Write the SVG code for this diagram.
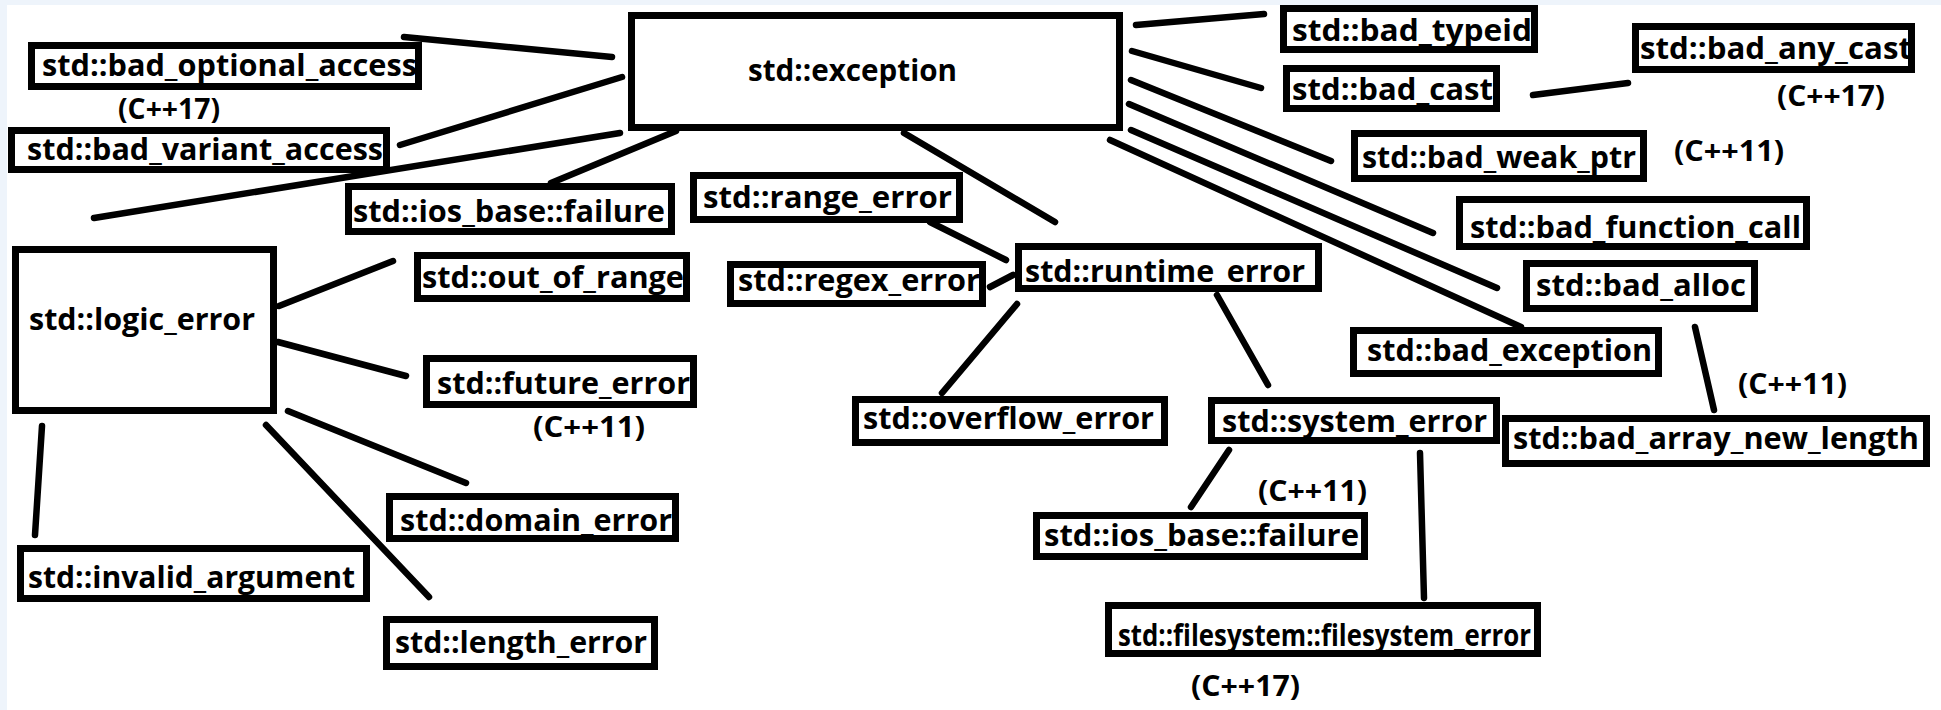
<svg xmlns="http://www.w3.org/2000/svg" width="1941" height="710" viewBox="0 0 1941 710">
<style>
.bx{fill:#fff;stroke:#000;stroke-width:7}
.t{font-family:"Open Sans","Noto Sans","Liberation Sans",sans-serif;font-weight:700;font-size:30px;fill:#000}
.lb{font-family:"Open Sans","Noto Sans","Liberation Sans",sans-serif;font-weight:700;font-size:28px;fill:#000}
.ln{stroke:#000;stroke-width:6.5;stroke-linecap:round;fill:none}
</style>
<rect x="0" y="0" width="1941" height="710" fill="#fff"/>
<rect x="0" y="0" width="1941" height="5" fill="#eef4fb"/>
<rect x="0" y="0" width="7" height="710" fill="#eef4fb"/>
<g id="connectors">
<line class="ln" x1="404" y1="37" x2="612" y2="57"/>
<line class="ln" x1="400" y1="145" x2="622" y2="77"/>
<line class="ln" x1="94" y1="218" x2="620" y2="133"/>
<line class="ln" x1="551" y1="183" x2="676" y2="131"/>
<line class="ln" x1="1136" y1="25" x2="1264" y2="14"/>
<line class="ln" x1="1132" y1="51" x2="1261" y2="88"/>
<line class="ln" x1="1131" y1="80" x2="1331" y2="161"/>
<line class="ln" x1="1129" y1="104" x2="1433" y2="233"/>
<line class="ln" x1="1131" y1="130" x2="1497" y2="288"/>
<line class="ln" x1="1110" y1="140" x2="1521" y2="327"/>
<line class="ln" x1="904" y1="133" x2="1055" y2="222"/>
<line class="ln" x1="930" y1="222" x2="1006" y2="260"/>
<line class="ln" x1="1013" y1="275" x2="990" y2="287"/>
<line class="ln" x1="1017" y1="304" x2="942" y2="393"/>
<line class="ln" x1="1217" y1="295" x2="1268" y2="385"/>
<line class="ln" x1="1229" y1="450" x2="1191" y2="507"/>
<line class="ln" x1="1420" y1="453" x2="1424" y2="598"/>
<line class="ln" x1="1533" y1="95" x2="1628" y2="83"/>
<line class="ln" x1="1695" y1="327" x2="1714" y2="410"/>
<line class="ln" x1="279" y1="306" x2="393" y2="261"/>
<line class="ln" x1="278" y1="342" x2="406" y2="376"/>
<line class="ln" x1="288" y1="411" x2="466" y2="483"/>
<line class="ln" x1="266" y1="425" x2="429" y2="597"/>
<line class="ln" x1="42" y1="426" x2="35" y2="535"/>
</g>
<g id="exception"><rect class="bx" x="631.5" y="15.5" width="488" height="112"/><text class="t" x="748" y="81" textLength="209" lengthAdjust="spacingAndGlyphs">std::exception</text></g>
<g id="bad_optional_access"><rect class="bx" x="31.5" y="45.5" width="387" height="41"/><text class="t" x="42" y="76" textLength="375" lengthAdjust="spacingAndGlyphs">std::bad_optional_access</text></g>
<g id="bad_variant_access"><rect class="bx" x="11.5" y="130.5" width="375" height="39"/><text class="t" x="27" y="160" textLength="356" lengthAdjust="spacingAndGlyphs">std::bad_variant_access</text></g>
<g id="ios_base_failure_1"><rect class="bx" x="348.5" y="186.5" width="323" height="45"/><text class="t" x="353" y="222" textLength="312" lengthAdjust="spacingAndGlyphs">std::ios_base::failure</text></g>
<g id="logic_error"><rect class="bx" x="15.5" y="249.5" width="258" height="161"/><text class="t" x="29" y="330" textLength="226" lengthAdjust="spacingAndGlyphs">std::logic_error</text></g>
<g id="out_of_range"><rect class="bx" x="417.5" y="255.5" width="269" height="43"/><text class="t" x="422" y="288" textLength="262" lengthAdjust="spacingAndGlyphs">std::out_of_range</text></g>
<g id="future_error"><rect class="bx" x="426.5" y="358.5" width="267" height="46"/><text class="t" x="437" y="394" textLength="253" lengthAdjust="spacingAndGlyphs">std::future_error</text></g>
<g id="domain_error"><rect class="bx" x="389.5" y="496.5" width="286" height="42"/><text class="t" x="400" y="531" textLength="272" lengthAdjust="spacingAndGlyphs">std::domain_error</text></g>
<g id="invalid_argument"><rect class="bx" x="20.5" y="548.5" width="346" height="50"/><text class="t" x="28" y="588" textLength="327" lengthAdjust="spacingAndGlyphs">std::invalid_argument</text></g>
<g id="length_error"><rect class="bx" x="386.5" y="619.5" width="268" height="47"/><text class="t" x="395" y="653" textLength="252" lengthAdjust="spacingAndGlyphs">std::length_error</text></g>
<g id="range_error"><rect class="bx" x="693.5" y="175.5" width="266" height="44"/><text class="t" x="703" y="208" textLength="249" lengthAdjust="spacingAndGlyphs">std::range_error</text></g>
<g id="regex_error"><rect class="bx" x="730.5" y="264.5" width="252" height="39"/><text class="t" x="738" y="291" textLength="242" lengthAdjust="spacingAndGlyphs">std::regex_error</text></g>
<g id="runtime_error"><rect class="bx" x="1018.5" y="246.5" width="300" height="42"/><text class="t" x="1025" y="282" textLength="280" lengthAdjust="spacingAndGlyphs">std::runtime_error</text></g>
<g id="overflow_error"><rect class="bx" x="855.5" y="399.5" width="309" height="43"/><text class="t" x="863" y="429" textLength="291" lengthAdjust="spacingAndGlyphs">std::overflow_error</text></g>
<g id="system_error"><rect class="bx" x="1211.5" y="400.5" width="285" height="40"/><text class="t" x="1222" y="432" textLength="265" lengthAdjust="spacingAndGlyphs">std::system_error</text></g>
<g id="ios_base_failure_2"><rect class="bx" x="1036.5" y="515.5" width="328" height="41"/><text class="t" x="1044" y="546" textLength="315" lengthAdjust="spacingAndGlyphs">std::ios_base::failure</text></g>
<g id="filesystem_error"><rect class="bx" x="1108.5" y="605.5" width="429" height="48"/><text class="t" x="1118" y="646" textLength="413" lengthAdjust="spacingAndGlyphs">std::filesystem::filesystem_error</text></g>
<g id="bad_typeid"><rect class="bx" x="1283.5" y="8.5" width="251" height="41"/><text class="t" x="1292" y="41" textLength="240" lengthAdjust="spacingAndGlyphs">std::bad_typeid</text></g>
<g id="bad_cast"><rect class="bx" x="1286.5" y="68.5" width="210" height="40"/><text class="t" x="1292" y="100" textLength="201" lengthAdjust="spacingAndGlyphs">std::bad_cast</text></g>
<g id="bad_any_cast"><rect class="bx" x="1635.5" y="26.5" width="276" height="43"/><text class="t" x="1640" y="59" textLength="272" lengthAdjust="spacingAndGlyphs">std::bad_any_cast</text></g>
<g id="bad_weak_ptr"><rect class="bx" x="1354.5" y="133.5" width="289" height="45"/><text class="t" x="1362" y="168" textLength="274" lengthAdjust="spacingAndGlyphs">std::bad_weak_ptr</text></g>
<g id="bad_function_call"><rect class="bx" x="1459.5" y="199.5" width="347" height="47"/><text class="t" x="1470" y="238" textLength="331" lengthAdjust="spacingAndGlyphs">std::bad_function_call</text></g>
<g id="bad_alloc"><rect class="bx" x="1526.5" y="263.5" width="228" height="45"/><text class="t" x="1536" y="296" textLength="210" lengthAdjust="spacingAndGlyphs">std::bad_alloc</text></g>
<g id="bad_exception"><rect class="bx" x="1353.5" y="330.5" width="305" height="43"/><text class="t" x="1367" y="361" textLength="285" lengthAdjust="spacingAndGlyphs">std::bad_exception</text></g>
<g id="bad_array_new_length"><rect class="bx" x="1505.5" y="418.5" width="421" height="45"/><text class="t" x="1513" y="449" textLength="406" lengthAdjust="spacingAndGlyphs">std::bad_array_new_length</text></g>
<g id="labels">
<text class="lb" x="118" y="119" textLength="102" lengthAdjust="spacingAndGlyphs">(C++17)</text>
<text class="lb" x="533" y="437" textLength="112" lengthAdjust="spacingAndGlyphs">(C++11)</text>
<text class="lb" x="1258" y="501" textLength="109" lengthAdjust="spacingAndGlyphs">(C++11)</text>
<text class="lb" x="1191" y="696" textLength="109" lengthAdjust="spacingAndGlyphs">(C++17)</text>
<text class="lb" x="1777" y="106" textLength="108" lengthAdjust="spacingAndGlyphs">(C++17)</text>
<text class="lb" x="1674" y="161" textLength="110" lengthAdjust="spacingAndGlyphs">(C++11)</text>
<text class="lb" x="1738" y="394" textLength="109" lengthAdjust="spacingAndGlyphs">(C++11)</text>
</g>
</svg>
